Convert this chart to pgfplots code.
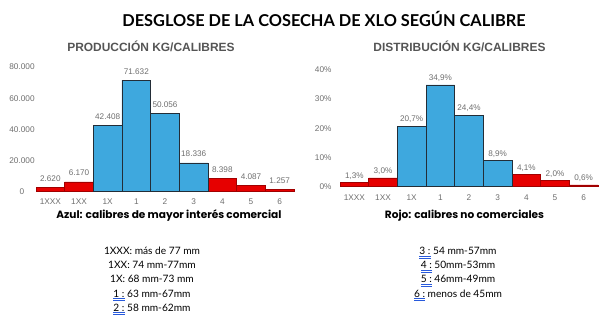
\documentclass[border=0pt]{standalone}
\usepackage{pgfplots}
\pgfplotsset{compat=1.18}
\usepackage{fontspec}
\setmainfont{Liberation Sans}
\newfontfamily\lato{Lato}
\newfontfamily\pop{Poppins}
\definecolor{barblue}{RGB}{62,168,222}
\definecolor{barred}{RGB}{230,0,0}
\definecolor{edge}{RGB}{35,45,55}
\definecolor{txtgray}{RGB}{110,110,110}
\definecolor{subgray}{RGB}{85,85,85}
\definecolor{ulblue}{RGB}{40,90,220}
\newcommand\uu[1]{\setbox0\hbox{#1}\rlap{\color{ulblue}\raisebox{-2.0pt}{\rule{\wd0}{0.55pt}}}\rlap{\color{ulblue}\raisebox{-3.5pt}{\rule{\wd0}{0.55pt}}}\box0\relax}
\pgfplotsset{
  histo/.style={
    scale only axis, width=258bp,
    xmin=0, xmax=9, ymin=0,
    axis x line*=bottom, axis y line*=left,
    axis line style={draw=none},
    major tick length=0pt,
    scaled y ticks=false,
    xtick={0.5,1.5,...,8.5},
    xticklabels={1XXX,1XX,1X,1,2,3,4,5,6},
    tick label style={font=\fontsize{8.3}{9}\selectfont, text=txtgray},
    xticklabel style={anchor=center},
    clip=false,
    point meta=explicit symbolic,
    nodes near coords,
    every node near coord/.append style={font=\fontsize{8.2}{9}\selectfont, text=txtgray, anchor=base},
  },
  hb/.style={ybar, bar width=1, bar shift=0pt, fill=barblue, draw=edge, line width=0.6bp},
  rb/.style={ybar, bar width=1, bar shift=0pt, fill=barred, draw=barred!70!black, line width=0.5bp},
}
\begin{document}
\begin{tikzpicture}
\path[use as bounding box] (0,0) rectangle (611bp,333bp);
\begin{axis}[histo, at={(36bp,141.5bp)}, anchor=south west, height=124.4bp, ymax=80000,
  ytick={0,20000,40000,60000,80000}, yticklabels={0,20.000,40.000,60.000,80.000},
  yticklabel style={anchor=center, xshift=-14bp}, xticklabel style={yshift=-10.5bp},
  every node near coord/.append style={yshift=6bp}]
\addplot[rb] coordinates {(0.5,2620)[2.620] (1.5,6170)[6.170] (6.5,8398)[8.398] (7.5,4087)[4.087] (8.5,1257)[1.257]};
\addplot[hb] coordinates {(2.5,42408)[42.408] (3.5,71632)[71.632] (4.5,50056)[50.056] (5.5,18336)[18.336]};
\end{axis}
\begin{axis}[histo, at={(340bp,146.5bp)}, anchor=south west, height=116.5bp, ymax=40,
  ytick={0,10,20,30,40}, yticklabels={0\%,10\%,20\%,30\%,40\%},
  yticklabel style={anchor=east, xshift=-5bp}, xticklabel style={yshift=-11.5bp},
  every node near coord/.append style={yshift=4.5bp}]
\addplot[rb] coordinates {(0.5,1.3)[{1,3\%}] (1.5,3.0)[{3,0\%}] (6.5,4.1)[{4,1\%}] (7.5,2.0)[{2,0\%}] (8.5,0.6)[{0,6\%}]};
\addplot[hb] coordinates {(2.5,20.7)[{20,7\%}] (3.5,34.9)[{34,9\%}] (4.5,24.4)[{24,4\%}] (5.5,8.9)[{8,9\%}]};
\end{axis}
\node[anchor=base, font=\lato\bfseries\fontsize{16.4}{18}\selectfont] at (324bp,306bp) {DESGLOSE DE LA COSECHA DE XLO SEGÚN CALIBRE};
\node[anchor=base, font=\bfseries\fontsize{12}{13}\selectfont, text=subgray] at (151bp,281bp) {PRODUCCIÓN KG/CALIBRES};
\node[anchor=base, font=\bfseries\fontsize{12}{13}\selectfont, text=subgray] at (459.5bp,281bp) {DISTRIBUCIÓN KG/CALIBRES};
\node[anchor=base, font=\pop\bfseries\fontsize{10.6}{12}\selectfont] at (169bp,114bp) {Azul: calibres de mayor interés comercial};
\node[anchor=base, font=\pop\bfseries\fontsize{10.6}{12}\selectfont] at (464.5bp,114bp) {Rojo: calibres no comerciales};
\begin{scope}[every node/.style={anchor=base, font=\lato\fontsize{10.2}{12}\selectfont}]
\node at (152bp,78bp) {1XXX: más de 77 mm};
\node at (152bp,64bp) {1XX: 74 mm-77mm};
\node at (152bp,50bp) {1X: 68 mm-73 mm};
\node at (152bp,36bp) {\uu{1 :} 63 mm-67mm};
\node at (152bp,22bp) {\uu{2 :} 58 mm-62mm};
\node at (458bp,78bp) {\uu{3 :} 54 mm-57mm};
\node at (458bp,64bp) {\uu{4 :} 50mm-53mm};
\node at (458bp,50bp) {\uu{5 :} 46mm-49mm};
\node at (458bp,36bp) {\uu{6 :} menos de 45mm};
\end{scope}
\end{tikzpicture}
\end{document}
